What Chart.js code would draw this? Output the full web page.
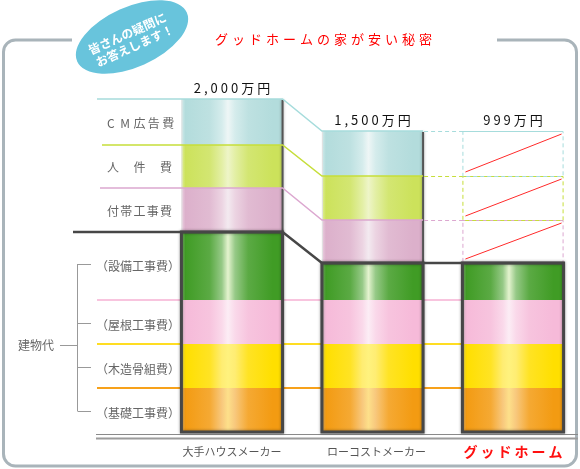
<!DOCTYPE html>
<html lang="ja">
<head>
<meta charset="utf-8">
<title>グッドホームの家が安い秘密</title>
<script src="https://cdn.jsdelivr.net/npm/chart.js@4.4.1/dist/chart.umd.min.js"></script>
<style>
  html, body { margin: 0; padding: 0; background: #fff; overflow: hidden; }
  #wrap { width: 580px; height: 469px; }
</style>
</head>
<body>
<div id="wrap"><canvas id="chart" width="580" height="469"></canvas></div>
<script>
// メーカー（横軸のカテゴリ）と上に出す金額
const makers = ['大手ハウスメーカー', 'ローコストメーカー', 'グッドホーム'];
const totals = ['2,000万円', '1,500万円', '999万円'];

// 費用の名前（下から順）
const costNames = ['（基礎工事費）', '（木造骨組費）', '（屋根工事費）', '（設備工事費）', '付帯工事費', '人件費', 'CM広告費'];

// 各費用の高さ（図から読み取った相対値）
const kiso = [44, 44, 44];
const mokuzo = [44, 44, 44];
const yane = [44, 44, 44];
const setsubi = [68, 37, 37];
const futai = [44, 43, 43];
const jinken = [43, 44, 44];
const cmCost = [46, 45, 45];

// グッドホームでは削られた費用（点線の枠で表示）
const removed = [false, false, true];

const BAR_PCT = 0.72;

// 色の設定（下から順）
const styles = [
    { color: '#f39b12', hi: '#fde08a', line: '#f7a11a' },
    { color: '#ffdf00', hi: '#fff27e', line: '#ffdd22' },
    { color: '#f6bad9', hi: '#fcedf5', line: '#f8c4de' },
    { color: '#409c25', hi: '#e4f3cf', line: '#444444' },
    { color: '#dcb0cb', hi: '#f3eaf0', line: '#dca8d0', ghost: true },
    { color: '#cce25b', hi: '#eef5c8', line: '#c6de3a', ghost: true },
    { color: '#b3dcdc', hi: '#eef6f6', line: '#a6dcdc', ghost: true }
];
const seriesData = [kiso, mokuzo, yane, setsubi, futai, jinken, cmCost];

function mix(hex, t) {
    const n = parseInt(hex.slice(1), 16);
    const r = n >> 16, g = (n >> 8) & 255, b = n & 255;
    const f = c => Math.round(c + (255 - c) * t);
    return `rgb(${f(r)},${f(g)},${f(b)})`;
}

// バーの横方向グラデーション
function barFill(st) {
    return function (ctx) {
        if (ctx.type !== 'data') return st.color;
        if (st.ghost && removed[ctx.dataIndex]) return 'rgba(0,0,0,0)';
        const chart = ctx.chart;
        const x = chart.scales.x;
        if (!x || !chart.chartArea) return st.color;
        const cx = x.getPixelForValue(ctx.dataIndex);
        const w = (x.getPixelForValue(1) - x.getPixelForValue(0)) * BAR_PCT;
        const g = chart.ctx.createLinearGradient(cx - w / 2, 0, cx + w / 2, 0);
        g.addColorStop(0, mix(st.color, 0.4));
        g.addColorStop(0.04, st.color);
        g.addColorStop(0.28, mix(st.color, 0.14));
        g.addColorStop(0.4, mix(st.color, 0.45));
        g.addColorStop(0.46, st.hi);
        g.addColorStop(0.53, mix(st.color, 0.45));
        g.addColorStop(0.66, mix(st.color, 0.14));
        g.addColorStop(0.9, st.color);
        g.addColorStop(1, st.color);
        return g;
    };
}

const FONT = '"Noto Sans CJK JP", "Noto Sans", sans-serif';

function bars(chart, i) {
    return chart.getDatasetMeta(i).data;
}

// 文字を指定幅に均等に並べる
function spreadText(c, text, x0, x1, y) {
    const chars = Array.from(text);
    c.textAlign = 'center';
    if (chars.length === 1) { c.fillText(text, (x0 + x1) / 2, y); return; }
    const cw = c.measureText(chars[0]).width;
    const step = (x1 - x0 - cw) / (chars.length - 1);
    chars.forEach((ch, k) => c.fillText(ch, x0 + cw / 2 + k * step, y));
}

const decoPlugin = {
    id: 'deco',
    beforeDatasetsDraw(chart) {
        const c = chart.ctx;
        c.save();

        // 外枠
        c.strokeStyle = '#a9b4ba';
        c.lineWidth = 3;
        c.beginPath();
        c.moveTo(72, 40);
        c.lineTo(15.5, 40);
        c.arcTo(3.5, 40, 3.5, 52, 12);
        c.lineTo(3.5, 454);
        c.arcTo(3.5, 466, 15.5, 466, 12);
        c.lineTo(564.5, 466);
        c.arcTo(576.5, 466, 576.5, 454, 12);
        c.lineTo(576.5, 52);
        c.arcTo(576.5, 40, 564.5, 40, 12);
        c.lineTo(497, 40);
        c.stroke();

        // 吹き出し
        c.save();
        c.translate(132, 37);
        c.rotate(-24 * Math.PI / 180);
        c.fillStyle = '#68c4dc';
        c.beginPath();
        c.ellipse(0, 0, 60, 30, 0, 0, Math.PI * 2);
        c.fill();
        c.fillStyle = '#fff';
        c.font = 'bold 12px ' + FONT;
        c.textAlign = 'center';
        c.textBaseline = 'middle';
        c.fillText('皆さんの疑問に', -3, -5);
        c.fillText('お答えします！', -1, 9);
        c.restore();

        // タイトル
        c.fillStyle = '#ff0000';
        c.font = '13px ' + FONT;
        c.letterSpacing = '4px';
        c.textAlign = 'left';
        c.textBaseline = 'middle';
        c.fillText('グッドホームの家が安い秘密', 215, 39);
        c.letterSpacing = '0px';

        const b0 = bars(chart, 0);
        const bar3R = b0[2].x + b0[2].width / 2;

        // 下の3本の色付きライン
        for (let i = 0; i < 3; i++) {
            const y = bars(chart, i)[0].y;
            c.strokeStyle = styles[i].line;
            c.lineWidth = 2;
            c.beginPath();
            c.moveTo(97, y);
            c.lineTo(bar3R, y);
            c.stroke();
        }

        // 地面の線
        c.strokeStyle = '#8a8a8a';
        c.lineWidth = 1;
        c.beginPath();
        c.moveTo(96, 434.5);
        c.lineTo(578, 434.5);
        c.stroke();
        c.strokeStyle = '#9c9c9c';
        c.lineWidth = 2;
        c.beginPath();
        c.moveTo(96, 438.5);
        c.lineTo(578, 438.5);
        c.stroke();

        // 左側のラベル
        c.fillStyle = '#666';
        c.font = '12px ' + FONT;
        c.textBaseline = 'middle';
        for (let i = 4; i < 7; i++) {
            const el = bars(chart, i)[0];
            spreadText(c, costNames[i], 107, 172, (el.y + el.base) / 2 + 1);
        }
        const tickYs = [];
        for (let i = 0; i < 4; i++) {
            const el = bars(chart, i)[0];
            const y = (el.y + el.base) / 2 + (i === 3 ? 0 : 3);
            c.textAlign = 'center';
            c.fillText(costNames[i], 138, y);
            tickYs.push(y - 2);
        }
        c.fillText('建物代', 36, 345);

        // 括弧の線
        c.strokeStyle = '#999';
        c.lineWidth = 1;
        c.beginPath();
        c.moveTo(77.5, tickYs[3]);
        c.lineTo(77.5, tickYs[0]);
        tickYs.forEach(y => { c.moveTo(77.5, Math.round(y) + 0.5); c.lineTo(91, Math.round(y) + 0.5); });
        c.moveTo(60, 345.5);
        c.lineTo(77.5, 345.5);
        c.stroke();

        c.restore();
    },
    afterDatasetsDraw(chart) {
        const c = chart.ctx;
        c.save();
        const top = bars(chart, 6);
        const lowTop = bars(chart, 3);
        const bottom = bars(chart, 0);
        const L = j => bottom[j].x - bottom[j].width / 2;
        const R = j => bottom[j].x + bottom[j].width / 2;

        // 上部の右側の影
        for (let j = 0; j < 2; j++) {
            c.strokeStyle = '#e2e2e2';
            c.lineWidth = 1;
            c.beginPath();
            c.moveTo(L(j) + 0.5, top[j].y);
            c.lineTo(L(j) + 0.5, lowTop[j].y);
            c.stroke();
            c.shadowColor = 'rgba(0,0,0,0.35)';
            c.shadowBlur = 3;
            c.strokeStyle = '#555';
            c.lineWidth = 2;
            c.beginPath();
            c.moveTo(R(j), top[j].y + 1);
            c.lineTo(R(j), lowTop[j].y);
            c.stroke();
            c.shadowBlur = 0;
            c.shadowColor = 'transparent';
        }

        // 上部のつなぎ線（点線は削られた費用）
        const startX = [100, 102, 97];
        for (let i = 4; i < 7; i++) {
            const el = bars(chart, i);
            c.strokeStyle = styles[i].line;
            c.lineWidth = 1.5;
            c.setLineDash([]);
            c.beginPath();
            c.moveTo(startX[i - 4], el[0].y);
            c.lineTo(R(0), el[0].y);
            c.lineTo(L(1), el[1].y);
            c.lineTo(R(1), el[1].y);
            c.stroke();
            c.lineWidth = 1;
            c.setLineDash([4, 3]);
            c.beginPath();
            c.moveTo(R(1) + 1, Math.round(el[1].y) + 0.5);
            c.lineTo(R(2), Math.round(el[1].y) + 0.5);
            c.stroke();
            if (removed[2]) {
                c.strokeRect(L(2) + 0.5, Math.round(el[2].y) + 0.5, R(2) - L(2) - 1, el[2].base - el[2].y);
                c.setLineDash([]);
                c.strokeStyle = '#ff2a2a';
                c.lineWidth = 1;
                c.beginPath();
                c.moveTo(L(2) + 3, el[2].base - 4);
                c.lineTo(R(2) - 2, el[2].y + 3);
                c.stroke();
            }
        }
        c.setLineDash([]);

        // 建物代の枠
        c.shadowColor = 'rgba(0,0,0,0.4)';
        c.shadowBlur = 3;
        c.strokeStyle = '#474747';
        c.lineWidth = 3;
        for (let j = 0; j < 3; j++) {
            c.strokeRect(L(j), lowTop[j].y, R(j) - L(j), bottom[j].base - lowTop[j].y);
        }
        c.shadowBlur = 0;
        c.shadowColor = 'transparent';
        c.lineWidth = 2.5;
        c.beginPath();
        c.moveTo(73, lowTop[0].y);
        c.lineTo(R(0), lowTop[0].y);
        c.lineTo(L(1), lowTop[1].y);
        c.lineTo(R(2), lowTop[2].y);
        c.stroke();

        // 金額
        c.fillStyle = '#111';
        c.font = '13px ' + FONT;
        c.letterSpacing = '3px';
        c.textAlign = 'center';
        c.textBaseline = 'middle';
        totals.forEach((t, j) => c.fillText(t, top[j].x + 1.5, top[j].y - 11));

        // メーカー名
        c.letterSpacing = '0px';
        makers.forEach((m, j) => {
            if (j === 2) {
                c.fillStyle = '#ff1010';
                c.font = 'bold 14px ' + FONT;
                c.letterSpacing = '3px';
                c.fillText(m, bottom[j].x + 1.5, 452);
                c.letterSpacing = '0px';
            } else {
                c.fillStyle = '#555';
                c.font = '11px ' + FONT;
                c.fillText(m, bottom[j].x + (j === 1 ? 4 : 0), 452);
            }
        });
        c.restore();
    }
};

new Chart(document.getElementById('chart'), {
    type: 'bar',
    data: {
        labels: makers,
        datasets: seriesData.map((d, i) => ({
            label: costNames[i],
            data: d,
            backgroundColor: barFill(styles[i]),
            borderWidth: 0,
            clip: false
        }))
    },
    options: {
        responsive: false,
        animation: false,
        events: [],
        devicePixelRatio: 1,
        layout: { padding: { left: 232, right: 67, top: 92, bottom: 37 } },
        datasets: { bar: { categoryPercentage: 1, barPercentage: BAR_PCT } },
        plugins: { legend: { display: false }, tooltip: { enabled: false } },
        scales: {
            x: { stacked: true, offset: false, display: false },
            y: { stacked: true, min: 0, max: 340, display: false }
        }
    },
    plugins: [decoPlugin]
});
</script>
</body>
</html>
